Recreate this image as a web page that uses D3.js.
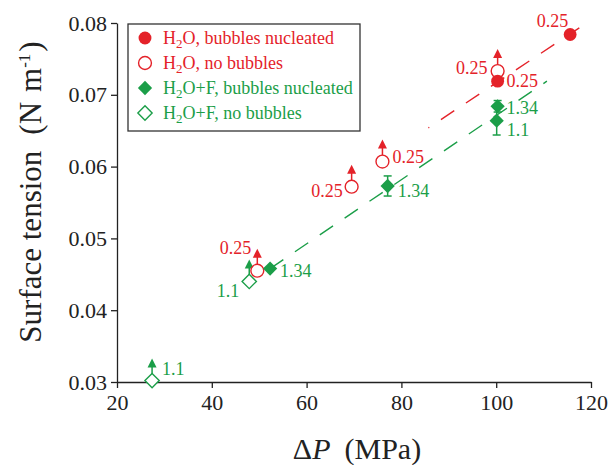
<!DOCTYPE html>
<html>
<head>
<meta charset="utf-8">
<script src="https://cdn.jsdelivr.net/npm/d3@7"></script>
<style>
  body { margin: 0; background: #fff; }
</style>
</head>
<body>
<div id="graph"></div>
<script>
// H2O, bubbles nucleated
var h2oBubX = [115.6, 100.3];
var h2oBubY = [0.0784, 0.0719];
var h2oBubLab = ["0.25", "0.25"];
// H2O, no bubbles (lower bounds)
var h2oNoX = [100.3, 76.0, 69.5, 49.6];
var h2oNoY = [0.0733, 0.0607, 0.0572, 0.0455];
var h2oNoLab = ["0.25", "0.25", "0.25", "0.25"];
// H2O+F, bubbles nucleated
var hfBubX = [100.3, 100.1, 77.1, 52.3];
var hfBubY = [0.0684, 0.0664, 0.0573, 0.0458];
var hfBubErr = [0.0008, 0.002, 0.0014, 0];
var hfBubLab = ["1.34", "1.1", "1.34", "1.34"];
// H2O+F, no bubbles (lower bounds)
var hfNoX = [47.9, 27.4];
var hfNoY = [0.0440, 0.0302];
var hfNoLab = ["1.1", "1.1"];
// dashed trend lines
var redLineX = [85.7, 118.4];
var redLineY = [0.0654, 0.0797];
var greenLineX = [52.3, 110.7];
var greenLineY = [0.0458, 0.0719];

var xTicks = [20, 40, 60, 80, 100, 120];
var yTicks = [0.03, 0.04, 0.05, 0.06, 0.07, 0.08];
var legendLabels = ["H2O, bubbles nucleated", "H2O, no bubbles", "H2O+F, bubbles nucleated", "H2O+F, no bubbles"];

var RED = "#e42229", GREEN = "#1b9e48";
var SERIF = "'Liberation Serif', 'Times New Roman', 'DejaVu Serif', serif";

var width = 608, height = 465;
var svg = d3.select("#graph").append("svg")
    .attr("width", width).attr("height", height)
    .attr("font-family", SERIF);

var x = d3.scaleLinear().domain([20, 120]).range([117, 591]);
var y = d3.scaleLinear().domain([0.03, 0.08]).range([382, 23]);

// axes
var xAxis = svg.append("g").attr("transform", "translate(0," + y(0.03) + ")")
    .call(d3.axisBottom(x).tickValues(xTicks).tickSize(6).tickSizeOuter(0).tickPadding(6));
var yAxis = svg.append("g").attr("transform", "translate(" + x(20) + ",0)")
    .call(d3.axisLeft(y).tickValues(yTicks).tickSize(6).tickSizeOuter(0).tickPadding(4)
        .tickFormat(d3.format(".2f")));
[xAxis, yAxis].forEach(function(a) {
    a.attr("font-family", SERIF).attr("font-size", 22);
    a.selectAll("text").attr("fill", "#222");
    a.selectAll("line, path").attr("stroke", "#222").attr("stroke-width", 1.3);
});

// axis titles
var xt = svg.append("text").attr("x", 357).attr("y", 459).attr("text-anchor", "middle")
    .attr("font-size", 30).attr("fill", "#222");
xt.append("tspan").text("\u0394");
xt.append("tspan").attr("font-style", "italic").text("P");
xt.append("tspan").attr("dx", 14).text("(MPa)");

var yt = svg.append("text").attr("transform", "translate(41,192) rotate(-90)")
    .attr("text-anchor", "middle").attr("font-size", 31).attr("fill", "#222");
yt.append("tspan").text("Surface tension");
yt.append("tspan").attr("dx", 16).text("(N");
yt.append("tspan").attr("dx", 10).text("m");
yt.append("tspan").attr("dy", -11).attr("font-size", 17).text("-1");
yt.append("tspan").attr("dy", 11).attr("dx", 2).text(")");

function pts(xs, ys) { return xs.map(function(v, i) { return [v, ys[i]]; }); }

// trend lines
var line = d3.line().x(function(d) { return x(d[0]); }).y(function(d) { return y(d[1]); });
svg.append("path").attr("d", line(pts(redLineX, redLineY)))
    .attr("fill", "none").attr("stroke", RED).attr("stroke-width", 1.4)
    .attr("stroke-dasharray", "1 14 16 14 16 14 16 14 16 14 16 14 16 14 16 14");
svg.append("path").attr("d", line(pts(greenLineX, greenLineY)))
    .attr("fill", "none").attr("stroke", GREEN).attr("stroke-width", 1.4)
    .attr("stroke-dasharray", "16 14");

var diamond = d3.symbol().type(d3.symbolDiamond2).size(130);
var circle = d3.symbol().type(d3.symbolCircle).size(130);

// lower-bound arrows
function arrows(xs, ys, color) {
    var g = svg.append("g");
    pts(xs, ys).forEach(function(p) {
        var cx = x(p[0]), cy = y(p[1]);
        g.append("line").attr("x1", cx).attr("x2", cx).attr("y1", cy - 6).attr("y2", cy - 14)
            .attr("stroke", color).attr("stroke-width", 1.5);
        g.append("path").attr("d", "M" + (cx - 4.5) + "," + (cy - 13) + "L" + cx + "," + (cy - 22) + "L" + (cx + 4.5) + "," + (cy - 13) + "Z")
            .attr("fill", color);
    });
}
arrows(h2oNoX, h2oNoY, RED);
arrows(hfNoX, hfNoY, GREEN);

// error bars
pts(hfBubX, hfBubY).forEach(function(p, i) {
    var e = hfBubErr[i];
    if (!e) return;
    var cx = x(p[0]);
    var g = svg.append("g").attr("stroke", GREEN).attr("stroke-width", 1.5);
    g.append("line").attr("x1", cx).attr("x2", cx).attr("y1", y(p[1] - e)).attr("y2", y(p[1] + e));
    g.append("line").attr("x1", cx - 4).attr("x2", cx + 4).attr("y1", y(p[1] - e)).attr("y2", y(p[1] - e));
    g.append("line").attr("x1", cx - 4).attr("x2", cx + 4).attr("y1", y(p[1] + e)).attr("y2", y(p[1] + e));
});

// markers
function markers(xs, ys, sym, color, filled) {
    svg.append("g").selectAll("path").data(pts(xs, ys)).enter().append("path")
        .attr("transform", function(d) { return "translate(" + x(d[0]) + "," + y(d[1]) + ")"; })
        .attr("d", sym)
        .attr("fill", filled ? color : "#fff")
        .attr("stroke", color).attr("stroke-width", filled ? 0 : 1.4);
}
markers(h2oNoX, h2oNoY, circle, RED, false);
markers(h2oBubX, h2oBubY, circle, RED, true);
markers(hfNoX, hfNoY, diamond, GREEN, false);
markers(hfBubX, hfBubY, diamond, GREEN, true);

// point labels: [dx, dy, anchor]
function labels(xs, ys, texts, offs, color) {
    pts(xs, ys).forEach(function(p, i) {
        svg.append("text").attr("x", x(p[0]) + offs[i][0]).attr("y", y(p[1]) + offs[i][1])
            .attr("text-anchor", offs[i][2]).attr("fill", color)
            .attr("font-size", 18).text(texts[i]);
    });
}
labels(h2oBubX, h2oBubY, h2oBubLab, [[-2, -7, "end"], [9, 6, "start"]], RED);
labels(h2oNoX, h2oNoY, h2oNoLab, [[-10, 3, "end"], [10, 1, "start"], [-9, 10, "end"], [-6, -17, "end"]], RED);
labels(hfBubX, hfBubY, hfBubLab, [[9, 8, "start"], [10, 15, "start"], [10, 11, "start"], [10, 8, "start"]], GREEN);
labels(hfNoX, hfNoY, hfNoLab, [[-10, 16, "end"], [10, -6, "start"]], GREEN);

// legend
var lg = svg.append("g").attr("transform", "translate(128,24)");
lg.append("rect").attr("width", 232).attr("height", 107)
    .attr("fill", "#fff").attr("stroke", "#333").attr("stroke-width", 1.3);
var legSyms = [[circle, RED, true], [circle, RED, false], [diamond, GREEN, true], [diamond, GREEN, false]];
legendLabels.forEach(function(t, i) {
    var ry = 14 + i * 25;
    var s = legSyms[i];
    lg.append("path").attr("transform", "translate(17," + ry + ")").attr("d", s[0])
        .attr("fill", s[2] ? s[1] : "#fff").attr("stroke", s[1]).attr("stroke-width", s[2] ? 0 : 1.4);
    var tx = lg.append("text").attr("x", 35).attr("y", ry + 6).attr("fill", s[1]).attr("font-size", 18);
    var parts = t.split("2");
    tx.append("tspan").text(parts[0]);
    tx.append("tspan").attr("dy", 4).attr("font-size", 13).text("2");
    tx.append("tspan").attr("dy", -4).text(parts[1]);
});
</script>
</body>
</html>
